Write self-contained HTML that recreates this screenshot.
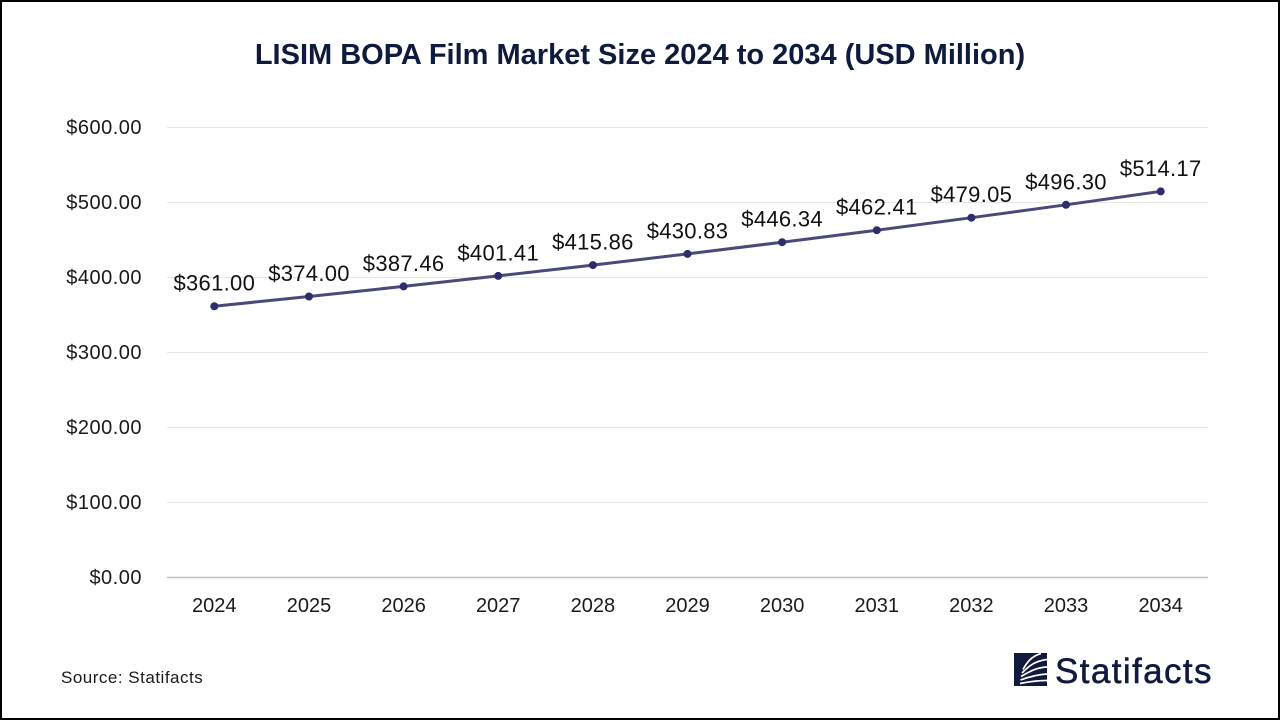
<!DOCTYPE html>
<html>
<head>
<meta charset="utf-8">
<style>
  html, body { margin:0; padding:0; background:#fff; }
  .wrap { position:relative; width:1280px; height:720px; box-sizing:border-box; border:2px solid #000; overflow:hidden; background:#fff; }
  svg { position:absolute; left:-2px; top:-2px; }
  text { font-family:"Liberation Sans", Arial, sans-serif; }
</style>
</head>
<body>
<div class="wrap">
<svg width="1280" height="720" viewBox="0 0 1280 720" xmlns="http://www.w3.org/2000/svg">
  <!-- Title -->
  <text x="640" y="64" text-anchor="middle" font-size="29" font-weight="bold" fill="#0f1b3d">LISIM BOPA Film Market Size 2024 to 2034 (USD Million)</text>

  <!-- Gridlines -->
  <g stroke="#e6e6e6" stroke-width="1">
    <line x1="167" y1="127.5" x2="1208" y2="127.5"/>
    <line x1="167" y1="202.5" x2="1208" y2="202.5"/>
    <line x1="167" y1="277.5" x2="1208" y2="277.5"/>
    <line x1="167" y1="352.5" x2="1208" y2="352.5"/>
    <line x1="167" y1="427.5" x2="1208" y2="427.5"/>
    <line x1="167" y1="502.5" x2="1208" y2="502.5"/>
  </g>
  <line x1="167" y1="577.5" x2="1208" y2="577.5" stroke="#bfbfbf" stroke-width="1.5"/>

  <!-- Y labels -->
  <g font-size="20" fill="#1a1a1a" text-anchor="end" letter-spacing="0.5">
    <text x="142" y="134">$600.00</text>
    <text x="142" y="209">$500.00</text>
    <text x="142" y="284">$400.00</text>
    <text x="142" y="359">$300.00</text>
    <text x="142" y="434">$200.00</text>
    <text x="142" y="509">$100.00</text>
    <text x="142" y="584">$0.00</text>
  </g>

  <!-- X labels -->
  <g font-size="20" fill="#1a1a1a" text-anchor="middle">
    <text x="214.3" y="612">2024</text>
    <text x="309.0" y="612">2025</text>
    <text x="403.6" y="612">2026</text>
    <text x="498.2" y="612">2027</text>
    <text x="592.9" y="612">2028</text>
    <text x="687.5" y="612">2029</text>
    <text x="782.1" y="612">2030</text>
    <text x="876.8" y="612">2031</text>
    <text x="971.4" y="612">2032</text>
    <text x="1066.0" y="612">2033</text>
    <text x="1160.7" y="612">2034</text>
  </g>

  <!-- Line -->
  <polyline fill="none" stroke="#4a4a7a" stroke-width="3" stroke-linejoin="round"
    points="214.3,306.25 309.0,296.5 403.6,286.4 498.2,275.9 592.9,265.1 687.5,253.9 782.1,242.2 876.8,230.2 971.4,217.7 1066.0,204.8 1160.7,191.4"/>
  <g fill="#2d2d6b">
    <circle cx="214.3" cy="306.25" r="4"/>
    <circle cx="309.0" cy="296.5" r="4"/>
    <circle cx="403.6" cy="286.4" r="4"/>
    <circle cx="498.2" cy="275.9" r="4"/>
    <circle cx="592.9" cy="265.1" r="4"/>
    <circle cx="687.5" cy="253.9" r="4"/>
    <circle cx="782.1" cy="242.2" r="4"/>
    <circle cx="876.8" cy="230.2" r="4"/>
    <circle cx="971.4" cy="217.7" r="4"/>
    <circle cx="1066.0" cy="204.8" r="4"/>
    <circle cx="1160.7" cy="191.4" r="4"/>
  </g>

  <!-- Data labels -->
  <g font-size="22" fill="#111" text-anchor="middle" letter-spacing="0.3">
    <text x="214.3" y="290.7">$361.00</text>
    <text x="309.0" y="281">$374.00</text>
    <text x="403.6" y="270.9">$387.46</text>
    <text x="498.2" y="260.4">$401.41</text>
    <text x="592.9" y="249.6">$415.86</text>
    <text x="687.5" y="238.4">$430.83</text>
    <text x="782.1" y="226.7">$446.34</text>
    <text x="876.8" y="214.7">$462.41</text>
    <text x="971.4" y="202.2">$479.05</text>
    <text x="1066.0" y="189.3">$496.30</text>
    <text x="1160.7" y="175.9">$514.17</text>
  </g>

  <!-- Source -->
  <text x="61" y="683" font-size="17" fill="#1a1a1a" letter-spacing="0.5">Source: Statifacts</text>

  <!-- Logo -->
  <g transform="translate(1014,653)">
    <rect x="0" y="0" width="33" height="33" fill="#0f1a3c"/>
    <g fill="none" stroke="#fff" stroke-width="1.7">
      <path d="M6 30.5 C 16 28.5, 24 27.5, 33 27.5"/>
      <path d="M6.5 27 C 16 23.5, 24 21.5, 33 21"/>
      <path d="M7 23.5 C 15 19, 22 14.5, 33 14"/>
      <path d="M8 20 C 14 14, 20 8, 33 6.5"/>
      <path d="M9 16.5 C 13 9, 18 3, 27 0.5"/>
    </g>
  </g>
  <text x="1055" y="683" font-size="35" fill="#0f1a3c" letter-spacing="1.4" stroke="#0f1a3c" stroke-width="0.5">Statifacts</text>
</svg>
</div>
</body>
</html>
